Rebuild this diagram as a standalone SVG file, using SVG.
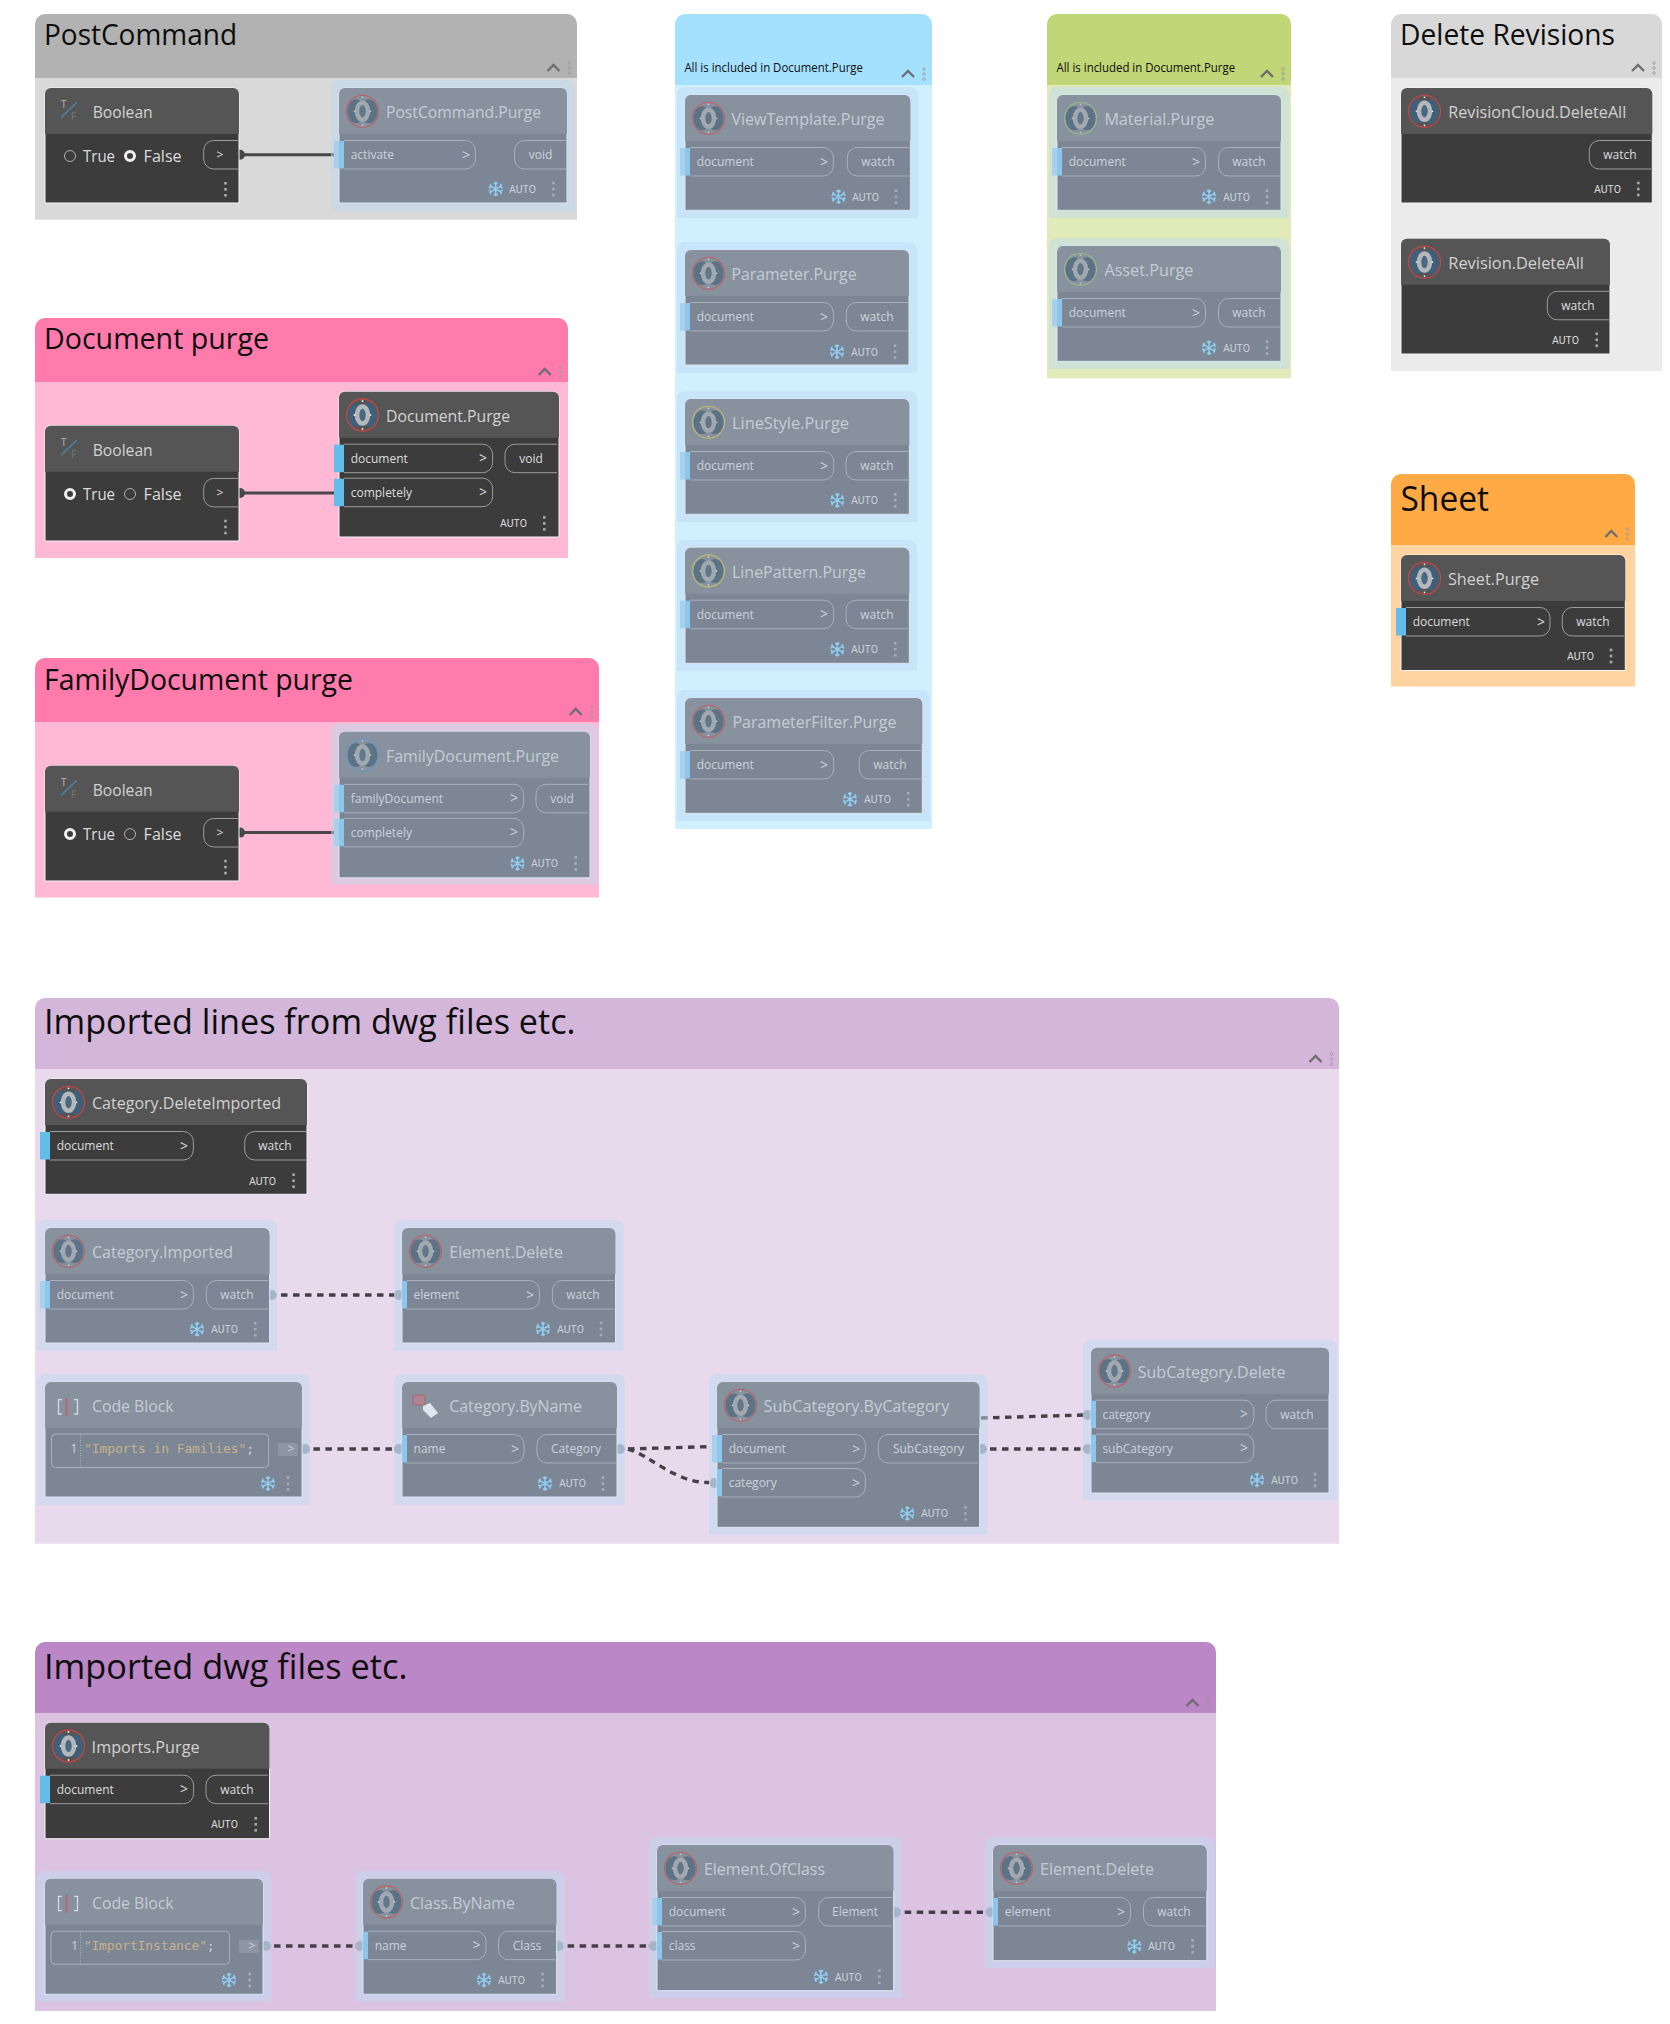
<svg xmlns="http://www.w3.org/2000/svg" width="1670" height="2024" viewBox="0 0 1670 2024">
<style>
text{font-family:"Open Sans","Noto Sans",sans-serif}
.gt{font-size:30px;fill:#0d0d0d}
.gl{font-size:34px}
.gs{font-size:12px;fill:#0d0d0d}
.chev{fill:none;stroke:#6e6e6e;stroke-width:2.4}
.gd{fill:none;stroke:#9a9a9a;stroke-width:.8}
.bd{stroke-width:1}
.halo{fill:#bdd9f1;opacity:.5}
.t{font-size:16px}
.p{font-size:12px}
.g{font-size:14px}
.m{text-anchor:middle}
.a{font-family:Roboto,"Open Sans",sans-serif;font-size:10.5px}
.r{font-size:16.5px}
.pl{fill:none;stroke-width:1}
.dark .bd{fill:#3c3c3c;stroke:#f5f5f5}
.dark .hd{fill:#555}
.dark .t{fill:#d2d2d2}
.dark .p,.dark .r,.dark .a{fill:#dcdcdc}
.dark .pl{stroke:#9c9c9c}
.dark .d{fill:#a8a8a8}
.dark .bar{fill:#62bde8}
.fr .bd{fill:#7c8694;stroke:#dde6f0}
.fr .hd{fill:#88929e}
.fr .t{fill:#c5ccd5}
.fr .p,.fr .a{fill:#ccd3db}
.fr .pl{stroke:#a8b1bc}
.fr .d{fill:#a4adb9}
.fr .bar{fill:#8cc6ec}
.fr .bar[x="-5"]{fill:url(#barg)}
.fr .i{opacity:.6}
.snow{fill:none;stroke:#8fcdf3;stroke-width:1.5}
.code{font-family:"DejaVu Sans Mono","Liberation Mono",monospace;font-size:13px;fill:#c9b28c}
.wire{fill:none;stroke:#474747;stroke-width:3}
.dash{fill:none;stroke:#454045;stroke-width:3.4;stroke-dasharray:6.5 5.5}
.ps{fill:#474747}
.pd{fill:#8a95a2}
</style>
<defs>
<linearGradient id="barg"><stop offset=".5" stop-color="#a9d0ea"/><stop offset=".5" stop-color="#8cc6ec"/></linearGradient>
<g id="ico">
<circle r="16" fill="none" stroke="currentColor" stroke-width="1.3"/>
<ellipse cx="-6.5" rx="8.5" ry="12" fill="#3f6078"/>
<ellipse cx="6.5" rx="8.5" ry="12" fill="#3f6078"/>
<ellipse rx="5.5" ry="8.5" fill="#4a687e" stroke="#b4b8bc" stroke-width="4.5"/>
<circle cy="-14" r=".9" fill="#eee"/><circle cy="14" r=".9" fill="#eee"/><circle cx="-8" r=".9" fill="#eee"/><circle cx="8" r=".9" fill="#eee"/>
</g>
<g id="snow" class="snow">
<path d="M0-7.3V7.3M-6.3-3.6 6.3 3.6M-6.3 3.6 6.3-3.6M-2-6.3 0-4.5 2-6.3M-2 6.3 0 4.5 2 6.3M-6.8-1-4.6-2.4-5.4-5M6.8 1 4.6 2.4 5.4 5M-6.8 1-4.6 2.4-5.4 5M6.8-1 4.6-2.4 5.4-5"/>
</g>
<g id="dots"><rect x="-1.3" y="-7.3" width="2.6" height="2.6"/><rect x="-1.3" y="-1.3" width="2.6" height="2.6"/><rect x="-1.3" y="4.7" width="2.6" height="2.6"/></g>
<g id="ghead"><path class="chev" d="M-6 3 0-3 6 3"/><g class="gd"><circle cx="16" cy="-5" r="1.3"/><circle cx="16" r="1.3"/><circle cx="16" cy="5" r="1.3"/></g></g>
<g id="tf"><path d="M31.6 14.7 16.3 29.3" stroke="#4c7ea6" stroke-width="1.6"/></g>
<g id="cbi"><path d="M17 17.6H13.5V32H17M29 17.6H32.5V32H29" fill="none" stroke="#d5dbe2" stroke-width="1.3"/><path d="M21.5 16V34" stroke="#b06a72" stroke-width="2"/></g>
</defs>

<g id="groups">
<g id="g-postcommand"><rect x="35" y="78" width="542" height="141.7" fill="#d9d9d9"/><path d="M35 78V24a10 10 0 0 1 10-10H567a10 10 0 0 1 10 10V78z" fill="#b2b2b2"/><text class="gt" x="44" y="45" textLength="193" lengthAdjust="spacingAndGlyphs">PostCommand</text><use href="#ghead" x="553.5" y="68"/></g>
<g id="g-document"><rect x="35" y="382" width="533" height="176" fill="#ffb9d4"/><path d="M35 382V328a10 10 0 0 1 10-10H558a10 10 0 0 1 10 10V382z" fill="#ff7bac"/><text class="gt" x="44" y="349.4" textLength="225" lengthAdjust="spacingAndGlyphs">Document purge</text><use href="#ghead" x="544.7" y="372"/></g>
<g id="g-family"><rect x="35" y="722" width="564" height="175.5" fill="#ffb9d4"/><path d="M35 722V668a10 10 0 0 1 10-10H589a10 10 0 0 1 10 10V722z" fill="#ff7bac"/><text class="gt" x="44" y="689.5" textLength="309" lengthAdjust="spacingAndGlyphs">FamilyDocument purge</text><use href="#ghead" x="575.7" y="712"/></g>
<g id="g-blue"><rect x="675" y="85" width="257" height="744" fill="#d0efff"/><path d="M675 85V24a10 10 0 0 1 10-10H922a10 10 0 0 1 10 10V85z" fill="#a4e1ff"/><text class="gs" x="684.4" y="72" textLength="178.6" lengthAdjust="spacingAndGlyphs">All is included in Document.Purge</text><use href="#ghead" x="908" y="74"/></g>
<g id="g-green"><rect x="1047" y="85" width="244" height="293.3" fill="#e1eab9"/><path d="M1047 85V24a10 10 0 0 1 10-10H1281a10 10 0 0 1 10 10V85z" fill="#c1d676"/><text class="gs" x="1056.5" y="72" textLength="178.6" lengthAdjust="spacingAndGlyphs">All is included in Document.Purge</text><use href="#ghead" x="1267" y="74"/></g>
<g id="g-revisions"><rect x="1391" y="78" width="271" height="293" fill="#ebebeb"/><path d="M1391 78V24a10 10 0 0 1 10-10H1652a10 10 0 0 1 10 10V78z" fill="#d8d8d8"/><text class="gt" x="1400" y="45" textLength="215" lengthAdjust="spacingAndGlyphs">Delete Revisions</text><use href="#ghead" x="1638" y="68"/></g>
<g id="g-sheet"><rect x="1391" y="545" width="244" height="141.6" fill="#ffd4a1"/><path d="M1391 545V484a10 10 0 0 1 10-10H1625a10 10 0 0 1 10 10V545z" fill="#ffaa45"/><text class="gt gl" x="1400.5" y="511" textLength="88.5" lengthAdjust="spacingAndGlyphs">Sheet</text><use href="#ghead" x="1611.3" y="534"/></g>
<g id="g-lines"><rect x="35" y="1069" width="1304" height="474.7" fill="#e8daec"/><path d="M35 1069V1008a10 10 0 0 1 10-10H1329a10 10 0 0 1 10 10V1069z" fill="#d4b6db"/><text class="gt gl" x="44" y="1034" textLength="531.6" lengthAdjust="spacingAndGlyphs">Imported lines from dwg files etc.</text><use href="#ghead" x="1315.5" y="1059"/></g>
<g id="g-dwg"><rect x="35" y="1713" width="1181" height="298" fill="#dcc3e2"/><path d="M35 1713V1652a10 10 0 0 1 10-10H1206a10 10 0 0 1 10 10V1713z" fill="#bb87c6"/><text class="gt gl" x="44" y="1679" textLength="363.5" lengthAdjust="spacingAndGlyphs">Imported dwg files etc.</text><use href="#ghead" x="1192.5" y="1703"/></g>
</g>

<g id="connectors">
<path class="wire" d="M240 154.7H334"/><circle class="ps" cx="240" cy="154.7" r="5"/>
<path class="wire" d="M240 493H334"/><circle class="ps" cx="240" cy="493" r="5"/>
<path class="wire" d="M240 832.6H334"/><circle class="ps" cx="240" cy="832.6" r="5"/>
<path class="dash" d="M281 1295H394"/>
<path class="dash" d="M313.4 1449H392.5"/>
<path class="dash" d="M628 1449 707 1446.7"/>
<path class="dash" d="M628 1449C650 1455 675 1483 709 1482.5"/>
<path class="dash" d="M981 1418 1084 1415"/>
<path class="dash" d="M990 1449H1083"/>
<path class="dash" d="M274 1946H354"/>
<path class="dash" d="M567.6 1946H646"/>
<path class="dash" d="M904.7 1912.3H983"/>
<g class="pd">
<circle cx="271.7" cy="1295" r="5"/><circle cx="399" cy="1295" r="5"/>
<circle cx="305" cy="1449" r="5"/><circle cx="399" cy="1449" r="5"/><circle cx="620" cy="1449" r="5"/>
<circle cx="714.5" cy="1483" r="5"/><circle cx="982" cy="1449" r="5"/>
<circle cx="1087.7" cy="1415" r="5"/><circle cx="1087.7" cy="1449" r="5"/>
<circle cx="266" cy="1946" r="5"/><circle cx="360" cy="1946" r="5"/>
<circle cx="558.6" cy="1946" r="5"/><circle cx="653.6" cy="1946" r="5"/>
<circle cx="896" cy="1912.3" r="5"/><circle cx="990.5" cy="1912.3" r="5"/>
</g>
</g>

<g id="nodes">
<g id="n-bool-1" class="dark" transform="translate(45 88)"><path class="bd" d="M0 6a6 6 0 0 1 6-6H188a6 6 0 0 1 6 6V115H0z"/><path class="hd" d="M0 6a6 6 0 0 1 6-6H188a6 6 0 0 1 6 6V46H0z"/><use href="#tf"/><text x="16" y="20" font-size="10" fill="#b8b8b8">T</text><text x="26" y="32" font-size="10" fill="#777">F</text><text class="t" x="47.7" y="30" textLength="60" lengthAdjust="spacingAndGlyphs">Boolean</text>
<circle cx="25" cy="68" r="5.5" fill="none" stroke="#b0b0b0"/><text class="r" x="38" y="74" textLength="32" lengthAdjust="spacingAndGlyphs">True</text><circle cx="85" cy="68" r="4.5" fill="#3c3c3c" stroke="#f0f0f0" stroke-width="3"/><text class="r" x="98.6" y="74" textLength="38" lengthAdjust="spacingAndGlyphs">False</text>
<path class="pl" d="M193 52.5H168.7a10 10 0 0 0-10 10v8.5a10 10 0 0 0 10 10H193"/><text class="p m" x="175" y="70.5">&gt;</text><use class="d" href="#dots" x="180.5" y="101.3"/></g>
<g id="n-bool-2" class="dark" transform="translate(45 425.7)"><path class="bd" d="M0 6a6 6 0 0 1 6-6H188a6 6 0 0 1 6 6V115.3H0z"/><path class="hd" d="M0 6a6 6 0 0 1 6-6H188a6 6 0 0 1 6 6V46H0z"/><use href="#tf"/><text x="16" y="20" font-size="10" fill="#b8b8b8">T</text><text x="26" y="32" font-size="10" fill="#777">F</text><text class="t" x="47.7" y="30" textLength="60" lengthAdjust="spacingAndGlyphs">Boolean</text>
<circle cx="25" cy="68.3" r="4.5" fill="#3c3c3c" stroke="#f0f0f0" stroke-width="3"/><text class="r" x="38" y="74.3" textLength="32" lengthAdjust="spacingAndGlyphs">True</text><circle cx="85" cy="68.3" r="5.5" fill="none" stroke="#b0b0b0"/><text class="r" x="98.6" y="74.3" textLength="38" lengthAdjust="spacingAndGlyphs">False</text>
<path class="pl" d="M193 52.7H168.7a10 10 0 0 0-10 10v8.5a10 10 0 0 0 10 10H193"/><text class="p m" x="175" y="71">&gt;</text><use class="d" href="#dots" x="180.5" y="101.3"/></g>
<g id="n-bool-3" class="dark" transform="translate(45 765.8)"><path class="bd" d="M0 6a6 6 0 0 1 6-6H188a6 6 0 0 1 6 6V115.2H0z"/><path class="hd" d="M0 6a6 6 0 0 1 6-6H188a6 6 0 0 1 6 6V46H0z"/><use href="#tf"/><text x="16" y="20" font-size="10" fill="#b8b8b8">T</text><text x="26" y="32" font-size="10" fill="#777">F</text><text class="t" x="47.7" y="30" textLength="60" lengthAdjust="spacingAndGlyphs">Boolean</text>
<circle cx="25" cy="68.3" r="4.5" fill="#3c3c3c" stroke="#f0f0f0" stroke-width="3"/><text class="r" x="38" y="74.3" textLength="32" lengthAdjust="spacingAndGlyphs">True</text><circle cx="85" cy="68.3" r="5.5" fill="none" stroke="#b0b0b0"/><text class="r" x="98.6" y="74.3" textLength="38" lengthAdjust="spacingAndGlyphs">False</text>
<path class="pl" d="M193 52.7H168.7a10 10 0 0 0-10 10v8.5a10 10 0 0 0 10 10H193"/><text class="p m" x="175" y="71">&gt;</text><use class="d" href="#dots" x="180.5" y="101.3"/></g>

<g id="n-postcommand" class="fr" transform="translate(339 88)"><path class="halo" d="M-8 0a8 8 0 0 1 8-8H228a8 8 0 0 1 8 8V123H-8z"/><path class="bd" d="M0 6a6 6 0 0 1 6-6H222a6 6 0 0 1 6 6V115H0z"/><path class="hd" d="M0 6a6 6 0 0 1 6-6H222a6 6 0 0 1 6 6V46H0z"/><use class="i" href="#ico" x="23.5" y="23.3" color="#d24a4a"/><text class="t" x="47" y="30" textLength="155" lengthAdjust="spacingAndGlyphs">PostCommand.Purge</text>
<rect class="bar" x="-5" y="53" width="10" height="27.5"/><path class="pl" d="M5 52.5H126.4a10 10 0 0 1 10 10v8.5a10 10 0 0 1-10 10H5"/><text class="p" x="11.7" y="71">activate</text><text class="p m g" x="127" y="71.5">&gt;</text><path class="pl" d="M227.5 52.5H185.5a10 10 0 0 0-10 10v8.5a10 10 0 0 0 10 10H227.5"/><text class="p m" x="201.5" y="71">void</text>
<use href="#snow" x="156.7" y="101"/><text class="a" x="170" y="105">AUTO</text><use class="d" href="#dots" x="214.5" y="101"/></g>

<g id="n-document" class="dark" transform="translate(339 391.7)"><path class="bd" d="M0 6a6 6 0 0 1 6-6H214a6 6 0 0 1 6 6V145.3H0z"/><path class="hd" d="M0 6a6 6 0 0 1 6-6H214a6 6 0 0 1 6 6V46H0z"/><use class="i" href="#ico" x="23.5" y="23.3" color="#c84444"/><text class="t" x="47" y="30" textLength="124" lengthAdjust="spacingAndGlyphs">Document.Purge</text>
<rect class="bar" x="-5" y="53" width="10" height="27.5"/><path class="pl" d="M5 52.5H143.6a10 10 0 0 1 10 10v8.5a10 10 0 0 1-10 10H5"/><text class="p" x="11.7" y="71">document</text><text class="p m g" x="144" y="71.5">&gt;</text>
<rect class="bar" x="-5" y="87" width="10" height="27.5"/><path class="pl" d="M5 86.5H143.6a10 10 0 0 1 10 10v8.5a10 10 0 0 1-10 10H5"/><text class="p" x="11.7" y="105">completely</text><text class="p m g" x="144" y="105.5">&gt;</text>
<path class="pl" d="M218 52.5H176a10 10 0 0 0-10 10v8.5a10 10 0 0 0 10 10H218"/><text class="p m" x="192" y="71">void</text>
<text class="a" x="161" y="135.5">AUTO</text><use class="d" href="#dots" x="205.3" y="131.7"/></g>

<g id="n-family" class="fr" transform="translate(339 731.8)"><path class="halo" d="M-8 0a8 8 0 0 1 8-8H251a8 8 0 0 1 8 8V153H-8z"/><path class="bd" d="M0 6a6 6 0 0 1 6-6H245a6 6 0 0 1 6 6V146H0z"/><path class="hd" d="M0 6a6 6 0 0 1 6-6H245a6 6 0 0 1 6 6V46H0z"/><use class="i" href="#ico" x="23.5" y="23.3" color="#5a9bd8"/><text class="t" x="47" y="30" textLength="173" lengthAdjust="spacingAndGlyphs">FamilyDocument.Purge</text>
<rect class="bar" x="-5" y="53" width="10" height="27.5"/><path class="pl" d="M5 52.5H174.6a10 10 0 0 1 10 10v8.5a10 10 0 0 1-10 10H5"/><text class="p" x="11.7" y="71">familyDocument</text><text class="p m g" x="175" y="71.5">&gt;</text>
<rect class="bar" x="-5" y="87" width="10" height="27.5"/><path class="pl" d="M5 86.5H174.6a10 10 0 0 1 10 10v8.5a10 10 0 0 1-10 10H5"/><text class="p" x="11.7" y="105">completely</text><text class="p m g" x="175" y="105.5">&gt;</text>
<path class="pl" d="M249 52.5H207a10 10 0 0 0-10 10v8.5a10 10 0 0 0 10 10H249"/><text class="p m" x="223" y="71">void</text>
<use href="#snow" x="178.5" y="131.7"/><text class="a" x="192" y="135.5">AUTO</text><use class="d" href="#dots" x="236.7" y="131.7"/></g>

<g id="n-viewtemplate" class="fr" transform="translate(685 95)"><path class="halo" d="M-8 0a8 8 0 0 1 8-8H225a8 8 0 0 1 8 8V123H-8z"/><path class="bd" d="M0 6a6 6 0 0 1 6-6H219.4a6 6 0 0 1 6 6V115.3H0z"/><path class="hd" d="M0 6a6 6 0 0 1 6-6H219.4a6 6 0 0 1 6 6V46H0z"/><use class="i" href="#ico" x="23.5" y="23.3" color="#d24a4a"/><text class="t" x="46.5" y="30" textLength="153" lengthAdjust="spacingAndGlyphs">ViewTemplate.Purge</text>
<rect class="bar" x="-5" y="53" width="10" height="27.5"/><path class="pl" d="M5 52.5H138.4a10 10 0 0 1 10 10v8.5a10 10 0 0 1-10 10H5"/><text class="p" x="11.7" y="71">document</text><text class="p m g" x="139" y="71.5">&gt;</text>
<path class="pl" d="M224 52.5H172.3a10 10 0 0 0-10 10v8.5a10 10 0 0 0 10 10H224"/><text class="p m" x="193" y="71">watch</text>
<use href="#snow" x="153.5" y="101.7"/><text class="a" x="167" y="105.5">AUTO</text><use class="d" href="#dots" x="211" y="101.7"/></g>

<g id="n-parameter" class="fr" transform="translate(685 250)"><path class="halo" d="M-8 0a8 8 0 0 1 8-8H224a8 8 0 0 1 8 8V123H-8z"/><path class="bd" d="M0 6a6 6 0 0 1 6-6H218a6 6 0 0 1 6 6V115H0z"/><path class="hd" d="M0 6a6 6 0 0 1 6-6H218a6 6 0 0 1 6 6V46H0z"/><use class="i" href="#ico" x="23.5" y="23.3" color="#d24a4a"/><text class="t" x="46.5" y="30" textLength="125" lengthAdjust="spacingAndGlyphs">Parameter.Purge</text>
<rect class="bar" x="-5" y="53" width="10" height="27.5"/><path class="pl" d="M5 52.5H138.4a10 10 0 0 1 10 10v8.5a10 10 0 0 1-10 10H5"/><text class="p" x="11.7" y="71">document</text><text class="p m g" x="139" y="71.5">&gt;</text>
<path class="pl" d="M223 52.5H171.4a10 10 0 0 0-10 10v8.5a10 10 0 0 0 10 10H223"/><text class="p m" x="192" y="71">watch</text>
<use href="#snow" x="152" y="101.7"/><text class="a" x="166" y="105.5">AUTO</text><use class="d" href="#dots" x="210" y="101.7"/></g>

<g id="n-linestyle" class="fr" transform="translate(685 399)"><path class="halo" d="M-8 0a8 8 0 0 1 8-8H224a8 8 0 0 1 8 8V123H-8z"/><path class="bd" d="M0 6a6 6 0 0 1 6-6H218.3a6 6 0 0 1 6 6V115.3H0z"/><path class="hd" d="M0 6a6 6 0 0 1 6-6H218.3a6 6 0 0 1 6 6V46H0z"/><use class="i" href="#ico" x="23.5" y="23.3" color="#e0cc5a"/><text class="t" x="47" y="30" textLength="117" lengthAdjust="spacingAndGlyphs">LineStyle.Purge</text>
<rect class="bar" x="-5" y="53" width="10" height="27.5"/><path class="pl" d="M5 52.5H138.7a10 10 0 0 1 10 10v8.5a10 10 0 0 1-10 10H5"/><text class="p" x="11.7" y="71">document</text><text class="p m g" x="139" y="71.5">&gt;</text>
<path class="pl" d="M223 52.5H171a10 10 0 0 0-10 10v8.5a10 10 0 0 0 10 10H223"/><text class="p m" x="192" y="71">watch</text>
<use href="#snow" x="152.3" y="101.3"/><text class="a" x="166" y="105">AUTO</text><use class="d" href="#dots" x="210.3" y="101.3"/></g>

<g id="n-linepattern" class="fr" transform="translate(685 547.7)"><path class="halo" d="M-8 0a8 8 0 0 1 8-8H224a8 8 0 0 1 8 8V123H-8z"/><path class="bd" d="M0 6a6 6 0 0 1 6-6H218.3a6 6 0 0 1 6 6V115.6H0z"/><path class="hd" d="M0 6a6 6 0 0 1 6-6H218.3a6 6 0 0 1 6 6V46H0z"/><use class="i" href="#ico" x="23.5" y="23.3" color="#e0cc5a"/><text class="t" x="47" y="30" textLength="134" lengthAdjust="spacingAndGlyphs">LinePattern.Purge</text>
<rect class="bar" x="-5" y="53" width="10" height="27.5"/><path class="pl" d="M5 52.5H138.7a10 10 0 0 1 10 10v8.5a10 10 0 0 1-10 10H5"/><text class="p" x="11.7" y="71">document</text><text class="p m g" x="139" y="71.5">&gt;</text>
<path class="pl" d="M223 52.5H171a10 10 0 0 0-10 10v8.5a10 10 0 0 0 10 10H223"/><text class="p m" x="192" y="71">watch</text>
<use href="#snow" x="152.3" y="101.6"/><text class="a" x="166" y="105.4">AUTO</text><use class="d" href="#dots" x="210.3" y="101.6"/></g>

<g id="n-parameterfilter" class="fr" transform="translate(685 698)"><path class="halo" d="M-8 0a8 8 0 0 1 8-8H237a8 8 0 0 1 8 8V123H-8z"/><path class="bd" d="M0 6a6 6 0 0 1 6-6H231.3a6 6 0 0 1 6 6V115.3H0z"/><path class="hd" d="M0 6a6 6 0 0 1 6-6H231.3a6 6 0 0 1 6 6V46H0z"/><use class="i" href="#ico" x="23.5" y="23.3" color="#d24a4a"/><text class="t" x="47.5" y="30" textLength="164" lengthAdjust="spacingAndGlyphs">ParameterFilter.Purge</text>
<rect class="bar" x="-5" y="53" width="10" height="27.5"/><path class="pl" d="M5 52.5H138.7a10 10 0 0 1 10 10v8.5a10 10 0 0 1-10 10H5"/><text class="p" x="11.7" y="71">document</text><text class="p m g" x="139" y="71.5">&gt;</text>
<path class="pl" d="M236 52.5H184.3a10 10 0 0 0-10 10v8.5a10 10 0 0 0 10 10H236"/><text class="p m" x="205" y="71">watch</text>
<use href="#snow" x="165" y="101.3"/><text class="a" x="179" y="105">AUTO</text><use class="d" href="#dots" x="223.3" y="101.3"/></g>

<g id="n-material" class="fr" transform="translate(1057 95)"><path class="halo" d="M-8 0a8 8 0 0 1 8-8H224a8 8 0 0 1 8 8V123H-8z"/><path class="bd" d="M0 6a6 6 0 0 1 6-6H218a6 6 0 0 1 6 6V115.3H0z"/><path class="hd" d="M0 6a6 6 0 0 1 6-6H218a6 6 0 0 1 6 6V46H0z"/><use class="i" href="#ico" x="23.5" y="23.3" color="#9cd07a"/><text class="t" x="47.4" y="30" textLength="110" lengthAdjust="spacingAndGlyphs">Material.Purge</text>
<rect class="bar" x="-5" y="53" width="10" height="27.5"/><path class="pl" d="M5 52.5H138.5a10 10 0 0 1 10 10v8.5a10 10 0 0 1-10 10H5"/><text class="p" x="11.7" y="71">document</text><text class="p m g" x="139" y="71.5">&gt;</text>
<path class="pl" d="M223 52.5H171.5a10 10 0 0 0-10 10v8.5a10 10 0 0 0 10 10H223"/><text class="p m" x="192" y="71">watch</text>
<use href="#snow" x="152" y="101.7"/><text class="a" x="166" y="105.5">AUTO</text><use class="d" href="#dots" x="210" y="101.7"/></g>

<g id="n-asset" class="fr" transform="translate(1057 246)"><path class="halo" d="M-8 0a8 8 0 0 1 8-8H224a8 8 0 0 1 8 8V123H-8z"/><path class="bd" d="M0 6a6 6 0 0 1 6-6H218a6 6 0 0 1 6 6V115.3H0z"/><path class="hd" d="M0 6a6 6 0 0 1 6-6H218a6 6 0 0 1 6 6V46H0z"/><use class="i" href="#ico" x="23.5" y="23.3" color="#9cd07a"/><text class="t" x="47.4" y="30" textLength="89" lengthAdjust="spacingAndGlyphs">Asset.Purge</text>
<rect class="bar" x="-5" y="53" width="10" height="27.5"/><path class="pl" d="M5 52.5H138.5a10 10 0 0 1 10 10v8.5a10 10 0 0 1-10 10H5"/><text class="p" x="11.7" y="71">document</text><text class="p m g" x="139" y="71.5">&gt;</text>
<path class="pl" d="M223 52.5H171.5a10 10 0 0 0-10 10v8.5a10 10 0 0 0 10 10H223"/><text class="p m" x="192" y="71">watch</text>
<use href="#snow" x="152" y="101.7"/><text class="a" x="166" y="105.5">AUTO</text><use class="d" href="#dots" x="210" y="101.7"/></g>

<g id="n-revisioncloud" class="dark" transform="translate(1401 88)"><path class="bd" d="M0 6a6 6 0 0 1 6-6H245.3a6 6 0 0 1 6 6V115H0z"/><path class="hd" d="M0 6a6 6 0 0 1 6-6H245.3a6 6 0 0 1 6 6V46H0z"/><use class="i" href="#ico" x="23.5" y="23.3" color="#c84444"/><text class="t" x="47.3" y="30" textLength="178" lengthAdjust="spacingAndGlyphs">RevisionCloud.DeleteAll</text>
<path class="pl" d="M250 52.5H198.3a10 10 0 0 0-10 10v8.5a10 10 0 0 0 10 10H250"/><text class="p m" x="219" y="71">watch</text>
<text class="a" x="193" y="105">AUTO</text><use class="d" href="#dots" x="237.3" y="101"/></g>

<g id="n-revision" class="dark" transform="translate(1401 238.8)"><path class="bd" d="M0 6a6 6 0 0 1 6-6H203a6 6 0 0 1 6 6V115.2H0z"/><path class="hd" d="M0 6a6 6 0 0 1 6-6H203a6 6 0 0 1 6 6V46H0z"/><use class="i" href="#ico" x="23.5" y="23.3" color="#c84444"/><text class="t" x="47.3" y="30.5" textLength="135.7" lengthAdjust="spacingAndGlyphs">Revision.DeleteAll</text>
<path class="pl" d="M208.3 52.5H156.3a10 10 0 0 0-10 10v8.5a10 10 0 0 0 10 10H208.3"/><text class="p m" x="177" y="71">watch</text>
<text class="a" x="151" y="105">AUTO</text><use class="d" href="#dots" x="195.7" y="101"/></g>

<g id="n-sheet" class="dark" transform="translate(1401 555)"><path class="bd" d="M0 6a6 6 0 0 1 6-6H218.3a6 6 0 0 1 6 6V115.5H0z"/><path class="hd" d="M0 6a6 6 0 0 1 6-6H218.3a6 6 0 0 1 6 6V46H0z"/><use class="i" href="#ico" x="23.5" y="23.3" color="#c84444"/><text class="t" x="47" y="30" textLength="91" lengthAdjust="spacingAndGlyphs">Sheet.Purge</text>
<rect class="bar" x="-5" y="53" width="10" height="27.5"/><path class="pl" d="M5 52.5H139a10 10 0 0 1 10 10v8.5a10 10 0 0 1-10 10H5"/><text class="p" x="11.7" y="71">document</text><text class="p m g" x="140" y="71.5">&gt;</text>
<path class="pl" d="M223 52.5H171.3a10 10 0 0 0-10 10v8.5a10 10 0 0 0 10 10H223"/><text class="p m" x="192" y="71">watch</text>
<text class="a" x="166" y="105">AUTO</text><use class="d" href="#dots" x="210" y="101"/></g>

<g id="n-deleteimported" class="dark" transform="translate(45 1079)"><path class="bd" d="M0 6a6 6 0 0 1 6-6H256a6 6 0 0 1 6 6V115.3H0z"/><path class="hd" d="M0 6a6 6 0 0 1 6-6H256a6 6 0 0 1 6 6V46H0z"/><use class="i" href="#ico" x="23.5" y="23.3" color="#c84444"/><text class="t" x="47" y="30" textLength="189" lengthAdjust="spacingAndGlyphs">Category.DeleteImported</text>
<rect class="bar" x="-5" y="53" width="10" height="27.5"/><path class="pl" d="M5 52.5H138.4a10 10 0 0 1 10 10v8.5a10 10 0 0 1-10 10H5"/><text class="p" x="11.7" y="71">document</text><text class="p m g" x="139" y="71.5">&gt;</text>
<path class="pl" d="M261 52.5H209.7a10 10 0 0 0-10 10v8.5a10 10 0 0 0 10 10H261"/><text class="p m" x="230" y="71">watch</text>
<text class="a" x="204" y="105.5">AUTO</text><use class="d" href="#dots" x="248.6" y="101.7"/></g>

<g id="n-categoryimported" class="fr" transform="translate(45 1228)"><path class="halo" d="M-8 0a8 8 0 0 1 8-8H224a8 8 0 0 1 8 8V123H-8z"/><path class="bd" d="M0 6a6 6 0 0 1 6-6H218.6a6 6 0 0 1 6 6V115H0z"/><path class="hd" d="M0 6a6 6 0 0 1 6-6H218.6a6 6 0 0 1 6 6V46H0z"/><use class="i" href="#ico" x="23.5" y="23.3" color="#d24a4a"/><text class="t" x="47" y="30" textLength="141" lengthAdjust="spacingAndGlyphs">Category.Imported</text>
<rect class="bar" x="-5" y="53" width="10" height="27.5"/><path class="pl" d="M5 52.5H138.4a10 10 0 0 1 10 10v8.5a10 10 0 0 1-10 10H5"/><text class="p" x="11.7" y="71">document</text><text class="p m g" x="139" y="71.5">&gt;</text>
<path class="pl" d="M223.3 52.5H171.4a10 10 0 0 0-10 10v8.5a10 10 0 0 0 10 10H223.3"/><text class="p m" x="192" y="71">watch</text>
<use href="#snow" x="152" y="101.3"/><text class="a" x="166" y="105">AUTO</text><use class="d" href="#dots" x="210.3" y="101.3"/></g>

<g id="n-elementdelete-1" class="fr" transform="translate(402 1228)"><path class="halo" d="M-8 0a8 8 0 0 1 8-8H213.5a8 8 0 0 1 8 8V123H-8z"/><path class="bd" d="M0 6a6 6 0 0 1 6-6H207.5a6 6 0 0 1 6 6V115H0z"/><path class="hd" d="M0 6a6 6 0 0 1 6-6H207.5a6 6 0 0 1 6 6V46H0z"/><use class="i" href="#ico" x="23.5" y="23.3" color="#d24a4a"/><text class="t" x="47.3" y="30" textLength="113.6" lengthAdjust="spacingAndGlyphs">Element.Delete</text>
<rect class="bar" x="0" y="53" width="5" height="27.5"/><path class="pl" d="M5 52.5H127.4a10 10 0 0 1 10 10v8.5a10 10 0 0 1-10 10H5"/><text class="p" x="11.5" y="71">element</text><text class="p m g" x="128" y="71.5">&gt;</text>
<path class="pl" d="M212 52.5H160.4a10 10 0 0 0-10 10v8.5a10 10 0 0 0 10 10H212"/><text class="p m" x="181" y="71">watch</text>
<use href="#snow" x="141" y="101"/><text class="a" x="155" y="105">AUTO</text><use class="d" href="#dots" x="199" y="101"/></g>

<g id="n-codeblock-1" class="fr" transform="translate(45 1382)"><path class="halo" d="M-8 0a8 8 0 0 1 8-8H257a8 8 0 0 1 8 8V123H-8z"/><path class="bd" d="M0 6a6 6 0 0 1 6-6H251a6 6 0 0 1 6 6V115H0z"/><path class="hd" d="M0 6a6 6 0 0 1 6-6H251a6 6 0 0 1 6 6V46H0z"/><use href="#cbi"/><text class="t" x="47" y="30" textLength="81.6" lengthAdjust="spacingAndGlyphs">Code Block</text>
<rect class="pl" x="6.6" y="52" width="217" height="33.5" rx="4"/><text class="p m" x="29" y="71">1</text><path d="M35.6 53V85" stroke="#a8b1bc" stroke-dasharray="1 1.5"/><text class="code" x="39" y="71" textLength="170">"Imports in Families"<tspan fill="#ccd3db">;</tspan></text>
<rect x="233" y="61" width="19.8" height="13" fill="#8d97a4"/><text class="p m" x="246" y="71">&gt;</text>
<use href="#snow" x="223" y="101.6"/><use class="d" href="#dots" x="243" y="101.6"/></g>

<g id="n-categorybyname" class="fr" transform="translate(402 1382)"><path class="halo" d="M-8 0a8 8 0 0 1 8-8H215a8 8 0 0 1 8 8V123H-8z"/><path class="bd" d="M0 6a6 6 0 0 1 6-6H209a6 6 0 0 1 6 6V115H0z"/><path class="hd" d="M0 6a6 6 0 0 1 6-6H209a6 6 0 0 1 6 6V46H0z"/><g class="i"><rect x="11" y="13" width="12" height="10" fill="#c87c88" stroke="#b0505c"/></g><path d="M21 24 28 21 36 31 29 36 21 28z" fill="#dfe5ec"/><text class="t" x="47.3" y="30" textLength="132.6" lengthAdjust="spacingAndGlyphs">Category.ByName</text>
<rect class="bar" x="0" y="53" width="5" height="27.5"/><path class="pl" d="M5 52.5H112a10 10 0 0 1 10 10v8.5a10 10 0 0 1-10 10H5"/><text class="p" x="11.6" y="71">name</text><text class="p m g" x="113" y="71.5">&gt;</text>
<path class="pl" d="M214 52.5H145a10 10 0 0 0-10 10v8.5a10 10 0 0 0 10 10H214"/><text class="p m" x="174" y="71">Category</text>
<use href="#snow" x="143" y="101.6"/><text class="a" x="157" y="105.4">AUTO</text><use class="d" href="#dots" x="201" y="101.6"/></g>

<g id="n-subcategorybycategory" class="fr" transform="translate(717 1382)"><path class="halo" d="M-8 0a8 8 0 0 1 8-8H262.6a8 8 0 0 1 8 8V153H-8z"/><path class="bd" d="M0 6a6 6 0 0 1 6-6H256.6a6 6 0 0 1 6 6V145.3H0z"/><path class="hd" d="M0 6a6 6 0 0 1 6-6H256.6a6 6 0 0 1 6 6V46H0z"/><use class="i" href="#ico" x="23.5" y="23.3" color="#d24a4a"/><text class="t" x="46.6" y="30" textLength="185.7" lengthAdjust="spacingAndGlyphs">SubCategory.ByCategory</text>
<rect class="bar" x="-5" y="53" width="10" height="27.5"/><path class="pl" d="M5 52.5H138.4a10 10 0 0 1 10 10v8.5a10 10 0 0 1-10 10H5"/><text class="p" x="11.7" y="71">document</text><text class="p m g" x="139" y="71.5">&gt;</text>
<rect class="bar" x="0" y="87" width="5" height="27.5"/><path class="pl" d="M5 86.5H138.4a10 10 0 0 1 10 10v8.5a10 10 0 0 1-10 10H5"/><text class="p" x="11.7" y="105">category</text><text class="p m g" x="139" y="105.5">&gt;</text>
<path class="pl" d="M261 52.5H171.3a10 10 0 0 0-10 10v8.5a10 10 0 0 0 10 10H261"/><text class="p m" x="211.5" y="71">SubCategory</text>
<use href="#snow" x="190.3" y="131.5"/><text class="a" x="204" y="135.3">AUTO</text><use class="d" href="#dots" x="248.4" y="131.5"/></g>

<g id="n-subcategorydelete" class="fr" transform="translate(1091 1347.7)"><path class="halo" d="M-8 0a8 8 0 0 1 8-8H238a8 8 0 0 1 8 8V153H-8z"/><path class="bd" d="M0 6a6 6 0 0 1 6-6H232a6 6 0 0 1 6 6V145.3H0z"/><path class="hd" d="M0 6a6 6 0 0 1 6-6H232a6 6 0 0 1 6 6V46H0z"/><use class="i" href="#ico" x="23.5" y="23.3" color="#d24a4a"/><text class="t" x="46.7" y="30" textLength="147.8" lengthAdjust="spacingAndGlyphs">SubCategory.Delete</text>
<rect class="bar" x="0" y="53" width="5" height="27.5"/><path class="pl" d="M5 52.5H152.8a10 10 0 0 1 10 10v8.5a10 10 0 0 1-10 10H5"/><text class="p" x="11.4" y="71">category</text><text class="p m g" x="153" y="71.5">&gt;</text>
<rect class="bar" x="0" y="87" width="5" height="27.5"/><path class="pl" d="M5 86.5H152.8a10 10 0 0 1 10 10v8.5a10 10 0 0 1-10 10H5"/><text class="p" x="11.4" y="105">subCategory</text><text class="p m g" x="153" y="105.5">&gt;</text>
<path class="pl" d="M237 52.5H185a10 10 0 0 0-10 10v8.5a10 10 0 0 0 10 10H237"/><text class="p m" x="206" y="71">watch</text>
<use href="#snow" x="166" y="132.3"/><text class="a" x="180" y="136">AUTO</text><use class="d" href="#dots" x="224" y="132.3"/></g>

<g id="n-importspurge" class="dark" transform="translate(45 1722.7)"><path class="bd" d="M0 6a6 6 0 0 1 6-6H218.5a6 6 0 0 1 6 6V116H0z"/><path class="hd" d="M0 6a6 6 0 0 1 6-6H218.5a6 6 0 0 1 6 6V46H0z"/><use class="i" href="#ico" x="23.5" y="23.3" color="#c84444"/><text class="t" x="46.6" y="30" textLength="108" lengthAdjust="spacingAndGlyphs">Imports.Purge</text>
<rect class="bar" x="-5" y="53" width="10" height="27.5"/><path class="pl" d="M5 52.5H138.6a10 10 0 0 1 10 10v8.5a10 10 0 0 1-10 10H5"/><text class="p" x="11.7" y="71">document</text><text class="p m g" x="139" y="71.5">&gt;</text>
<path class="pl" d="M223 52.5H171a10 10 0 0 0-10 10v8.5a10 10 0 0 0 10 10H223"/><text class="p m" x="192" y="71">watch</text>
<text class="a" x="166" y="105.4">AUTO</text><use class="d" href="#dots" x="210.7" y="101.6"/></g>

<g id="n-codeblock-2" class="fr" transform="translate(45 1878.7)"><path class="halo" d="M-8 0a8 8 0 0 1 8-8H218a8 8 0 0 1 8 8V123H-8z"/><path class="bd" d="M0 6a6 6 0 0 1 6-6H212a6 6 0 0 1 6 6V115.6H0z"/><path class="hd" d="M0 6a6 6 0 0 1 6-6H212a6 6 0 0 1 6 6V46H0z"/><use href="#cbi"/><text class="t" x="47" y="30" textLength="81.5" lengthAdjust="spacingAndGlyphs">Code Block</text>
<rect class="pl" x="6" y="52.6" width="178.6" height="33" rx="4"/><text class="p m" x="29.6" y="71.5">1</text><path d="M35.5 53.5V85" stroke="#a8b1bc" stroke-dasharray="1 1.5"/><text class="code" x="38.7" y="71.5" textLength="131">"ImportInstance"<tspan fill="#ccd3db">;</tspan></text>
<rect x="194" y="61.3" width="20" height="13" fill="#8d97a4"/><text class="p m" x="207" y="71.3">&gt;</text>
<use href="#snow" x="184" y="101.3"/><use class="d" href="#dots" x="204.7" y="101.3"/></g>

<g id="n-classbyname" class="fr" transform="translate(363 1878.7)"><path class="halo" d="M-8 0a8 8 0 0 1 8-8H193.6a8 8 0 0 1 8 8V123H-8z"/><path class="bd" d="M0 6a6 6 0 0 1 6-6H187.6a6 6 0 0 1 6 6V115.6H0z"/><path class="hd" d="M0 6a6 6 0 0 1 6-6H187.6a6 6 0 0 1 6 6V46H0z"/><use class="i" href="#ico" x="23.5" y="23.3" color="#d24a4a"/><text class="t" x="47" y="30" textLength="105" lengthAdjust="spacingAndGlyphs">Class.ByName</text>
<rect class="bar" x="0" y="53" width="5" height="27.5"/><path class="pl" d="M5 52.5H113a10 10 0 0 1 10 10v8.5a10 10 0 0 1-10 10H5"/><text class="p" x="11.7" y="71">name</text><text class="p m g" x="113.5" y="71.5">&gt;</text>
<path class="pl" d="M192 52.5H145.5a10 10 0 0 0-10 10v8.5a10 10 0 0 0 10 10H192"/><text class="p m" x="164" y="71">Class</text>
<use href="#snow" x="121" y="101.3"/><text class="a" x="135" y="105">AUTO</text><use class="d" href="#dots" x="179.7" y="101.3"/></g>

<g id="n-elementofclass" class="fr" transform="translate(657 1845)"><path class="halo" d="M-8 0a8 8 0 0 1 8-8H236.6a8 8 0 0 1 8 8V153H-8z"/><path class="bd" d="M0 6a6 6 0 0 1 6-6H230.6a6 6 0 0 1 6 6V145.7H0z"/><path class="hd" d="M0 6a6 6 0 0 1 6-6H230.6a6 6 0 0 1 6 6V46H0z"/><use class="i" href="#ico" x="23.5" y="23.3" color="#d24a4a"/><text class="t" x="47" y="30" textLength="121" lengthAdjust="spacingAndGlyphs">Element.OfClass</text>
<rect class="bar" x="-5" y="53" width="10" height="27.5"/><path class="pl" d="M5 52.5H138.5a10 10 0 0 1 10 10v8.5a10 10 0 0 1-10 10H5"/><text class="p" x="11.7" y="71">document</text><text class="p m g" x="139" y="71.5">&gt;</text>
<rect class="bar" x="0" y="87" width="5" height="27.5"/><path class="pl" d="M5 86.5H138.5a10 10 0 0 1 10 10v8.5a10 10 0 0 1-10 10H5"/><text class="p" x="11.7" y="105">class</text><text class="p m g" x="139" y="105.5">&gt;</text>
<path class="pl" d="M235.4 52.5H171.5a10 10 0 0 0-10 10v8.5a10 10 0 0 0 10 10H235.4"/><text class="p m" x="198" y="71">Element</text>
<use href="#snow" x="164" y="131.7"/><text class="a" x="177.7" y="135.5">AUTO</text><use class="d" href="#dots" x="222.4" y="131.7"/></g>

<g id="n-elementdelete-2" class="fr" transform="translate(993 1845)"><path class="halo" d="M-8 0a8 8 0 0 1 8-8H213.8a8 8 0 0 1 8 8V123H-8z"/><path class="bd" d="M0 6a6 6 0 0 1 6-6H207.8a6 6 0 0 1 6 6V115.7H0z"/><path class="hd" d="M0 6a6 6 0 0 1 6-6H207.8a6 6 0 0 1 6 6V46H0z"/><use class="i" href="#ico" x="23.5" y="23.3" color="#d24a4a"/><text class="t" x="47" y="30" textLength="114" lengthAdjust="spacingAndGlyphs">Element.Delete</text>
<rect class="bar" x="0" y="53" width="5" height="27.5"/><path class="pl" d="M5 52.5H127.5a10 10 0 0 1 10 10v8.5a10 10 0 0 1-10 10H5"/><text class="p" x="11.7" y="71">element</text><text class="p m g" x="128" y="71.5">&gt;</text>
<path class="pl" d="M212 52.5H160.5a10 10 0 0 0-10 10v8.5a10 10 0 0 0 10 10H212"/><text class="p m" x="181" y="71">watch</text>
<use href="#snow" x="141.4" y="101.3"/><text class="a" x="155" y="105">AUTO</text><use class="d" href="#dots" x="199.6" y="101.3"/></g>
</g>
</svg>
